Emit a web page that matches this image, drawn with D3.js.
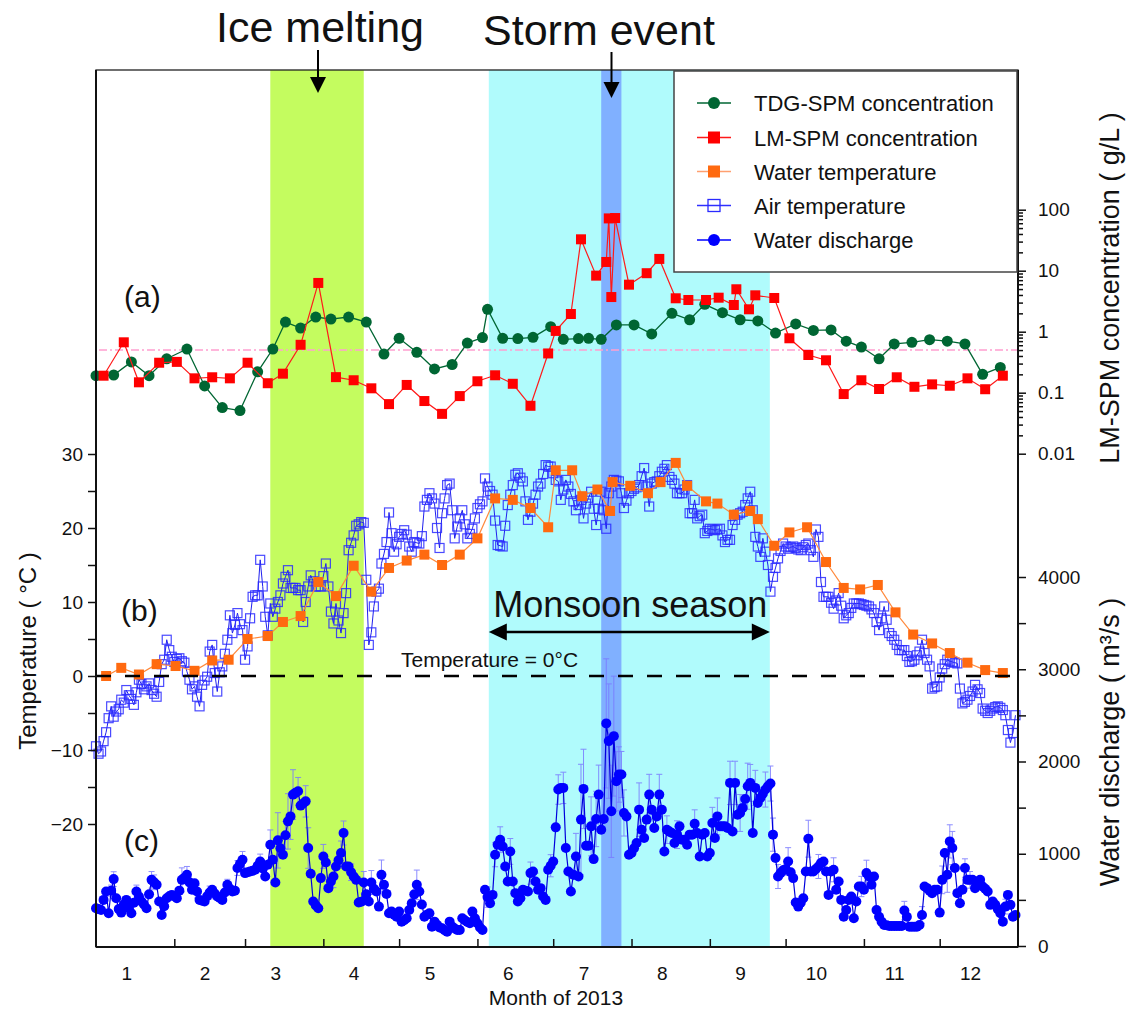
<!DOCTYPE html>
<html>
<head>
<meta charset="utf-8">
<script src="https://d3js.org/d3.v7.min.js"></script>
<style>
body { margin: 0; background: #fff; }
svg text { font-family: Arial, "Liberation Sans", sans-serif; fill: #111; }
</style>
</head>
<body>
<div id="chart"></div>
<script>
// ---- data (day of year from 1 Jan 2013, value) ----
const monthLabels = ["1","2","3","4","5","6","7","8","9","10","11","12"];

const tdgDays = [0,7,14,21,28,36,43,50,57,64,70,75,81,87,93,100,107,114,120,127,134,141,147,153,155,161,167,173,180,185,191,195,200,206,213,220,228,235,241,248,255,262,269,277,284,291,297,303,310,316,323,330,337,344,351,358];
const tdgConc = [0.19,0.195,0.32,0.19,0.36,0.52,0.129,0.057,0.051,0.22,0.52,1.44,1.15,1.74,1.61,1.74,1.44,0.43,0.78,0.46,0.245,0.29,0.65,0.80,2.33,0.78,0.77,0.81,1.21,0.75,0.77,0.78,0.75,1.29,1.29,0.92,2.0,1.57,2.81,2.05,1.57,1.5,0.95,1.34,1.05,1.07,0.70,0.56,0.36,0.63,0.67,0.74,0.70,0.63,0.20,0.26];

const lmDays = [3,11,17,25,32,39,46,53,60,68,74,81,88,95,102,109,116,123,130,137,144,151,158,165,172,179,182,188,192,198,202,203,204,205.5,211,218,223,229.5,234.5,241.5,246.5,252.5,253.5,258.5,261,268.5,274.5,282,289,296,303,310,317,324,331,338,345,352,359];
const lmConc = [0.19,0.67,0.148,0.31,0.32,0.172,0.179,0.172,0.31,0.143,0.205,0.61,6.3,0.18,0.16,0.118,0.065,0.134,0.073,0.045,0.088,0.154,0.193,0.14,0.061,0.44,1.03,1.95,32.7,8.3,13.9,72,3.7,73,5.9,9.1,15.6,3.53,3.31,3.31,3.61,2.74,4.96,2.33,3.95,3.57,0.78,0.415,0.34,0.095,0.16,0.115,0.179,0.125,0.137,0.13,0.172,0.114,0.19];

const waterTempDays = [4,10,17,24,31.5,39,46,52.5,60,68,74,81,88,95,102,109,116,123,130,137,144,151,158,165,172,179,182,188.5,192.5,198.5,203.5,204.5,211.5,218.5,223.5,229.5,234,241.5,246,252.5,259,262,268.5,274.5,281.5,289,296,302.5,309.5,316.5,323.5,331,338,345,352,359];
const waterTemp = [0,1.1,0.2,1.6,1.35,0.7,2.1,2.2,5.0,5.4,7.3,8.1,12.7,10.8,14.9,11.4,14.6,15.6,16.4,15.0,16.4,18.6,24.0,23.8,22.7,20.1,27.8,27.8,24.3,25.2,22.3,26.2,25.7,24.7,26.2,28.8,25.7,23.6,23.3,21.8,22.3,21.2,17.6,19.4,20.1,15.4,11.9,11.7,12.3,8.6,5.6,4.4,3.1,1.8,0.8,0.4];

// daily air temperature, 1 Jan .. 31 Dec
const airTemp = [
-9.5,-10.5,-10.2,-8.8,-7.6,-5.7,-4.1,-5.5,-4.8,-4.5,
-3.2,-3.6,-1.9,-2.6,-3.1,-3.9,-2.2,-0.5,-1.1,-1.8,
-1.4,-1.0,-1.9,-2.4,-2.8,-0.8,1.6,2.2,4.9,3.5,
2.6,1.9,2.3,2.4,2.0,1.8,0.6,-0.5,-1.8,-1.4,
-2.8,-4.1,-1.2,-0.6,-0.1,3.3,4.2,0.4,-2.1,0.5,
1.3,3.0,4.9,8.2,5.8,6.9,8.5,7.0,6.2,2.2,
4.0,7.8,10.7,10.9,10.9,15.7,12.1,8.0,5.5,9.8,
8.0,9.1,10.0,10.9,12.5,13.4,14.3,11.9,11.9,11.9,
11.6,11.6,7.3,10.0,12.1,13.6,12.8,12.1,12.1,12.1,
13.5,15.2,12.1,8.7,7.1,9.8,7.5,5.8,8.5,11.2,
17.0,18.0,19.0,20.3,20.5,20.8,20.7,13.0,4.2,5.9,
9.4,11.4,11.8,15.2,16.5,18.1,22.1,19.3,16.8,17.8,
18.8,19.2,19.7,19.1,17.5,16.8,18.1,18.0,17.9,18.9,
22.9,23.8,24.7,24.0,23.3,20.0,17.3,22.0,24.0,25.8,
26.0,22.4,18.6,20.2,21.3,22.4,20.5,18.6,19.2,19.9,
21.3,22.7,23.2,23.6,26.7,25.6,25.0,24.5,21.0,17.7,
17.6,17.5,20.3,23.1,24.5,25.8,27.2,27.4,26.8,26.3,
23.6,21.1,22.2,23.3,24.5,25.6,26.0,27.3,28.5,28.3,
28.3,27.4,26.5,26.3,23.8,25.2,26.5,25.6,24.6,23.6,
22.4,23.1,23.8,21.3,23.3,24.1,24.9,22.6,20.4,22.6,
24.9,22.4,19.9,24.7,25.6,26.5,26.4,26.3,24.7,22.7,
23.7,24.7,25.0,25.3,25.5,25.8,27.0,28.1,25.6,22.9,
26.0,26.2,26.3,27.0,27.6,28.0,28.5,26.9,26.5,26.0,
24.7,24.7,24.7,25.2,25.8,22.0,22.0,23.8,21.3,21.6,
21.8,19.3,19.6,19.9,19.8,19.7,19.8,19.9,19.0,18.1,
18.4,18.4,20.4,21.1,21.8,22.0,22.2,23.1,24.0,24.9,
22.4,18.8,17.5,16.1,18.6,16.8,15.0,11.4,13.4,14.6,
15.9,16.9,17.9,17.5,17.2,17.4,17.5,17.3,17.1,17.0,
17.4,17.7,17.9,17.0,16.1,19.8,18.8,12.7,10.7,10.7,
10.7,9.9,9.1,10.2,11.2,9.5,7.8,8.2,8.5,9.2,
9.8,9.8,9.8,9.7,9.6,9.5,9.4,9.0,8.5,7.3,
6.2,7.8,9.4,7.6,5.8,5.4,4.9,4.2,3.5,3.5,
3.5,2.7,1.9,2.0,2.2,2.8,3.3,4.9,3.1,2.2,
1.3,-1.7,-1.5,-1.4,-0.2,1.0,1.6,2.2,2.0,1.9,
1.8,1.7,-1.7,-3.7,-3.5,-3.2,-2.7,-2.1,-1.2,-1.8,
-2.3,-4.4,-4.7,-5.0,-4.7,-4.4,-4.2,-4.1,-4.3,-4.6,
-5.3,-7.3,-9.0,-7.7,-5.3];

// daily water discharge (m3/s)
const discharge = [
410,400,391,500,590,355,600,725,518,400,
362,450,500,410,355,470,590,536,482,450,
410,560,717,690,663,482,337,430,518,540,
554,540,518,600,717,740,772,690,609,681,
590,500,490,482,540,580,609,570,536,520,
500,580,663,620,590,600,845,890,935,790,
800,808,815,826,870,916,840,753,880,1098,
935,688,1145,1060,989,1200,1351,1405,1641,1660,
1677,1522,1545,1568,1062,783,482,440,410,736,
971,905,627,700,753,862,930,1008,1225,862,
862,800,753,717,471,480,688,560,482,688,
620,590,427,772,663,565,355,373,340,318,
373,264,280,301,391,464,560,663,590,450,
318,340,355,210,264,230,200,192,170,155,
264,210,190,174,174,301,280,260,247,373,
300,247,200,174,609,530,464,554,989,1098,
1152,1079,862,699,1025,699,573,482,518,609,
600,590,790,808,700,609,627,536,500,826,
870,916,1286,1696,1714,1714,1062,808,590,772,
971,753,1370,1703,1087,1087,1297,942,1377,1641,
1261,1377,2413,2221,1460,2275,1786,1859,1859,1442,
1405,989,1008,1060,1116,1478,1261,1170,1370,1641,
1478,1279,1405,1641,1478,1025,1261,1240,1225,1116,
1207,1297,1152,1152,1098,1207,1207,1326,1225,971,
1207,1225,971,1008,1333,1170,1405,1297,1297,1297,
1279,1768,1242,1768,1424,1442,1497,1594,1732,1768,
1225,1714,1551,1605,1650,1696,1732,1761,1207,953,
753,790,820,833,916,800,736,471,427,470,
518,808,1163,808,808,835,862,900,916,808,
554,808,826,609,699,500,318,391,500,536,
301,482,645,645,609,790,753,663,753,391,
318,264,228,225,217,217,217,217,217,217,
384,318,210,210,210,210,228,337,645,627,
600,573,609,609,362,717,1008,772,1134,1062,
845,573,464,609,845,717,717,717,627,690,
717,645,620,590,446,482,446,400,355,264,
427,554,446,318,337];

// discharge error bars read where visible: [day, +/- m3/s]
const dischargeErr = [[6,60],[7,80],[16,70],[22,90],[23,80],[34,130],[36,90],[40,70],[45,70],[52,60],[56,80],[58,90],[65,80],[69,160],[72,300],[75,150],[76,300],[77,250],[78,270],[80,150],[83,170],[84,220],[90,130],[94,120],[97,130],[98,130],[101,90],[106,120],[109,130],[113,160],[127,160],[155,110],[158,130],[160,140],[164,140],[172,120],[174,90],[180,120],[183,160],[185,170],[190,250],[192,600],[193,430],[196,320],[198,300],[199,320],[202,700],[203,620],[204,500],[205,650],[206,320],[207,300],[208,250],[209,250],[215,290],[219,220],[223,220],[226,150],[230,150],[237,150],[244,170],[246,200],[251,235],[253,235],[255,200],[258,250],[259,200],[261,190],[265,190],[267,190],[268,180],[270,130],[274,150],[282,200],[286,130],[292,130],[303,110],[305,140],[320,100],[327,90],[335,150],[337,190],[338,180],[339,180],[344,100],[346,90],[360,80]];

// shaded periods
const periods = [
  {start: "2013-03-11T00:00Z", end: "2013-04-17T00:00Z", color: "#c4fc5f"},
  {start: "2013-06-05T12:00Z", end: "2013-09-24T18:00Z", color: "#b0fbfc"},
  {start: "2013-07-20T00:00Z", end: "2013-07-28T00:00Z", color: "#80b0ff"}
];

const legendLabels = ["TDG-SPM concentration","LM-SPM concentration","Water temperature","Air temperature","Water discharge"];

// ---- layout ----
const W = 1126, H = 1016;
const L = 96, R = 1018, T = 70, B = 947;

const svg = d3.select("#chart").append("svg")
  .attr("width", W)
  .attr("height", H);

const t0 = Date.UTC(2013, 0, 1);
const dayDate = d => new Date(t0 + d * 86400000);

const x = d3.scaleUtc()
  .domain([new Date(t0), new Date(Date.UTC(2014, 0, 1))])
  .range([L, R]);
const yT = d3.scaleLinear().domain([-20, 30]).range([824, 454]);
const yC = d3.scaleLog().domain([0.01, 100]).range([453.7, 209.7]);
const yQ = d3.scaleLinear().domain([0, 4000]).range([946, 577]);

// shaded bands
svg.selectAll("rect.band")
  .data(periods)
  .enter()
  .append("rect")
  .attr("class", "band")
  .attr("x", d => x(new Date(d.start)))
  .attr("width", d => x(new Date(d.end)) - x(new Date(d.start)))
  .attr("y", T)
  .attr("height", B - T)
  .attr("fill", d => d.color);

// ---- (c) water discharge ----
const qData = discharge.map((v, i) => ({d: i, v: v}));

const errG = svg.append("g")
  .attr("stroke", "#7a7aff")
  .attr("stroke-width", 1)
  .attr("opacity", 0.85);
dischargeErr.forEach(([d, e]) => {
  const cx = x(dayDate(d));
  const v = discharge[d];
  const y1 = yQ(v + e), y2 = yQ(Math.max(v - e, 0));
  errG.append("line").attr("x1", cx).attr("x2", cx).attr("y1", y1).attr("y2", y2);
  errG.append("line").attr("x1", cx - 3).attr("x2", cx + 3).attr("y1", y1).attr("y2", y1);
  errG.append("line").attr("x1", cx - 3).attr("x2", cx + 3).attr("y1", y2).attr("y2", y2);
});

svg.append("path")
  .datum(qData)
  .attr("fill", "none")
  .attr("stroke", "#0000dd")
  .attr("stroke-width", 1.2)
  .attr("d", d3.line().x(d => x(dayDate(d.d))).y(d => yQ(d.v)));

svg.append("g")
  .selectAll("circle")
  .data(qData)
  .enter()
  .append("circle")
  .attr("cx", d => x(dayDate(d.d)))
  .attr("cy", d => yQ(d.v))
  .attr("r", 5)
  .attr("fill", "#0000ff");

// ---- (b) temperatures ----
const airData = airTemp.map((v, i) => ({d: i, v: v}));
svg.append("path")
  .datum(airData)
  .attr("fill", "none")
  .attr("stroke", "#2020ee")
  .attr("stroke-width", 1)
  .attr("d", d3.line().x(d => x(dayDate(d.d))).y(d => yT(d.v)));

svg.append("g")
  .selectAll("rect")
  .data(airData)
  .enter()
  .append("rect")
  .attr("x", d => x(dayDate(d.d)) - 4.5)
  .attr("y", d => yT(d.v) - 4.5)
  .attr("width", 9)
  .attr("height", 9)
  .attr("fill", "none")
  .attr("stroke", "#2a2aff")
  .attr("stroke-opacity", 0.85)
  .attr("stroke-width", 1.2);

const wtData = waterTempDays.map((d, i) => ({d: d, v: waterTemp[i]}));
svg.append("path")
  .datum(wtData)
  .attr("fill", "none")
  .attr("stroke", "#ff8a3d")
  .attr("stroke-width", 1.2)
  .attr("d", d3.line().x(d => x(dayDate(d.d))).y(d => yT(d.v)));

svg.append("g")
  .selectAll("rect")
  .data(wtData)
  .enter()
  .append("rect")
  .attr("x", d => x(dayDate(d.d)) - 5)
  .attr("y", d => yT(d.v) - 5)
  .attr("width", 10)
  .attr("height", 10)
  .attr("fill", "#ff6a10");

// ---- (a) concentrations ----
// 0.5 g/L reference line
svg.append("line")
  .attr("x1", L + 3).attr("x2", R)
  .attr("y1", yC(0.5)).attr("y2", yC(0.5))
  .attr("stroke", "#ff9fd0")
  .attr("stroke-width", 1.6)
  .attr("stroke-dasharray", "8,3,2,3");

const tdgData = tdgDays.map((d, i) => ({d: d, v: tdgConc[i]}));
svg.append("path")
  .datum(tdgData)
  .attr("fill", "none")
  .attr("stroke", "#006633")
  .attr("stroke-width", 1.3)
  .attr("d", d3.line().x(d => x(dayDate(d.d))).y(d => yC(d.v)));
svg.append("g")
  .selectAll("circle")
  .data(tdgData)
  .enter()
  .append("circle")
  .attr("cx", d => x(dayDate(d.d)))
  .attr("cy", d => yC(d.v))
  .attr("r", 5.5)
  .attr("fill", "#006633");

const lmData = lmDays.map((d, i) => ({d: d, v: lmConc[i]}));
svg.append("path")
  .datum(lmData)
  .attr("fill", "none")
  .attr("stroke", "#ff1a1a")
  .attr("stroke-width", 1.2)
  .attr("d", d3.line().x(d => x(dayDate(d.d))).y(d => yC(d.v)));
svg.append("g")
  .selectAll("rect")
  .data(lmData)
  .enter()
  .append("rect")
  .attr("x", d => x(dayDate(d.d)) - 5)
  .attr("y", d => yC(d.v) - 5)
  .attr("width", 10)
  .attr("height", 10)
  .attr("fill", "#ff0000");

// zero temperature line
svg.append("line")
  .attr("x1", L).attr("x2", R)
  .attr("y1", yT(0)).attr("y2", yT(0))
  .attr("stroke", "#000")
  .attr("stroke-width", 2.4)
  .attr("stroke-dasharray", "15,14");

svg.append("text")
  .attr("x", 401).attr("y", 667)
  .attr("font-size", 21)
  .text("Temperature = 0°C");

// ---- frame and axes ----
svg.append("rect")
  .attr("x", L).attr("y", T)
  .attr("width", R - L).attr("height", B - T)
  .attr("fill", "none")
  .attr("stroke", "#222")
  .attr("stroke-width", 1.3);
svg.append("line")
  .attr("x1", L).attr("x2", L).attr("y1", T).attr("y2", B)
  .attr("stroke", "#111").attr("stroke-width", 2);
svg.append("line")
  .attr("x1", R).attr("x2", R).attr("y1", T).attr("y2", B)
  .attr("stroke", "#111").attr("stroke-width", 2);
svg.append("line")
  .attr("x1", L).attr("x2", R).attr("y1", B).attr("y2", B)
  .attr("stroke", "#111").attr("stroke-width", 2);

function styleAxis(g, fs) {
  g.select(".domain").remove();
  g.selectAll(".tick line").attr("stroke", "#111").attr("stroke-width", 1.5);
  g.selectAll(".tick text")
    .attr("font-size", fs)
    .attr("font-family", "Arial, 'Liberation Sans', sans-serif")
    .attr("fill", "#111");
}

// left temperature axis
svg.append("g")
  .attr("transform", `translate(${L},0)`)
  .call(d3.axisLeft(yT).tickValues([-20, -10, 0, 10, 20, 30]).tickSize(8).tickPadding(5))
  .call(g => styleAxis(g, 19));
svg.append("g")
  .attr("transform", `translate(${L},0)`)
  .call(d3.axisLeft(yT).tickValues([-15, -5, 5, 15, 25]).tickSize(8).tickFormat(""))
  .call(g => styleAxis(g, 19));

// right log concentration axis
svg.append("g")
  .attr("transform", `translate(${R},0)`)
  .call(d3.axisRight(yC).tickValues([0.01, 0.1, 1, 10, 100]).tickSize(8).tickPadding(12)
    .tickFormat(d => d >= 1 ? d3.format("d")(d) : String(d)))
  .call(g => styleAxis(g, 19));
svg.append("g")
  .attr("transform", `translate(${R},0)`)
  .call(d3.axisRight(yC).tickValues(yC.ticks().filter(v => ![0.01, 0.1, 1, 10, 100].includes(v))).tickSize(5).tickFormat(""))
  .call(g => styleAxis(g, 19));

// right discharge axis
svg.append("g")
  .attr("transform", `translate(${R},0)`)
  .call(d3.axisRight(yQ).tickValues([0, 1000, 2000, 3000, 4000]).tickSize(8).tickPadding(12).tickFormat(d3.format("d")))
  .call(g => styleAxis(g, 19));
svg.append("g")
  .attr("transform", `translate(${R},0)`)
  .call(d3.axisRight(yQ).tickValues([500, 1500, 2500, 3500]).tickSize(8).tickFormat(""))
  .call(g => styleAxis(g, 19));

// bottom month axis: ticks at month starts (inside), labels near mid-month
const monthStarts = d3.range(1, 12).map(m => new Date(Date.UTC(2013, m, 1)));
svg.append("g")
  .attr("transform", `translate(0,${B})`)
  .call(d3.axisBottom(x).tickValues(monthStarts).tickSize(-8).tickFormat(""))
  .call(g => styleAxis(g, 19));
svg.append("g")
  .attr("transform", `translate(0,${B})`)
  .call(d3.axisBottom(x)
    .tickValues(d3.range(0, 12).map(m => new Date(Date.UTC(2013, m, 13))))
    .tickSize(0).tickPadding(20)
    .tickFormat((d, i) => monthLabels[i]))
  .call(g => styleAxis(g, 19));

// axis titles
svg.append("text")
  .attr("x", 556).attr("y", 1005)
  .attr("text-anchor", "middle")
  .attr("font-size", 21)
  .text("Month of 2013");

svg.append("text")
  .attr("transform", "translate(36,651) rotate(-90)")
  .attr("text-anchor", "middle")
  .attr("font-size", 24)
  .text("Temperature ( °C )");

svg.append("text")
  .attr("transform", "translate(1119,288) rotate(-90)")
  .attr("text-anchor", "middle")
  .attr("font-size", 27)
  .text("LM-SPM concentration ( g/L )");

svg.append("text")
  .attr("transform", "translate(1119,742) rotate(-90)")
  .attr("text-anchor", "middle")
  .attr("font-size", 27)
  .text("Water discharge ( m³/s )");

// panel letters
[["(a)", 124, 307], ["(b)", 121, 621], ["(c)", 124, 851]].forEach(([t, px, py]) => {
  svg.append("text").attr("x", px).attr("y", py).attr("font-size", 30).text(t);
});

// event annotations
svg.append("text")
  .attr("x", 320).attr("y", 42)
  .attr("text-anchor", "middle")
  .attr("font-size", 43)
  .text("Ice melting");
svg.append("text")
  .attr("x", 599).attr("y", 45)
  .attr("text-anchor", "middle")
  .attr("font-size", 43)
  .text("Storm event");

function downArrow(ax, y0, tip) {
  svg.append("line")
    .attr("x1", ax).attr("x2", ax).attr("y1", y0).attr("y2", tip - 12)
    .attr("stroke", "#000").attr("stroke-width", 2);
  svg.append("path")
    .attr("d", `M${ax - 8},${tip - 16}L${ax + 8},${tip - 16}L${ax},${tip}Z`)
    .attr("fill", "#000");
}
downArrow(318, 50, 93);
downArrow(611.5, 52, 98);

// monsoon season
const mStart = x(new Date(periods[1].start)), mEnd = x(new Date(periods[1].end));
svg.append("text")
  .attr("x", (mStart + mEnd) / 2 + 1).attr("y", 617)
  .attr("text-anchor", "middle")
  .attr("font-size", 36)
  .text("Monsoon season");
svg.append("line")
  .attr("x1", mStart + 14).attr("x2", mEnd - 14)
  .attr("y1", 632).attr("y2", 632)
  .attr("stroke", "#000").attr("stroke-width", 2.5);
svg.append("path")
  .attr("d", `M${mStart},632L${mStart + 18},623.5L${mStart + 18},640.5Z`)
  .attr("fill", "#000");
svg.append("path")
  .attr("d", `M${mEnd},632L${mEnd - 18},623.5L${mEnd - 18},640.5Z`)
  .attr("fill", "#000");

// ---- legend ----
const lg = svg.append("g");
lg.append("rect")
  .attr("x", 674).attr("y", 71)
  .attr("width", 343).attr("height", 201)
  .attr("fill", "#fff")
  .attr("stroke", "#444")
  .attr("stroke-width", 1.5);

const legendColors = ["#006633", "#ff1a1a", "#ffa070", "#3030ff", "#0000ff"];
const legendY = [103, 137.5, 171.5, 205.5, 240];
legendLabels.forEach((lab, i) => {
  const ly = legendY[i];
  lg.append("line")
    .attr("x1", 697).attr("x2", 731).attr("y1", ly).attr("y2", ly)
    .attr("stroke", legendColors[i]).attr("stroke-width", 1.3);
  if (i === 0) {
    lg.append("circle").attr("cx", 714).attr("cy", ly).attr("r", 6).attr("fill", "#006633");
  } else if (i === 1) {
    lg.append("rect").attr("x", 708).attr("y", ly - 6).attr("width", 12).attr("height", 12).attr("fill", "#ff0000");
  } else if (i === 2) {
    lg.append("rect").attr("x", 708).attr("y", ly - 6).attr("width", 12).attr("height", 12).attr("fill", "#ff6a10");
  } else if (i === 3) {
    lg.append("rect").attr("x", 708).attr("y", ly - 6).attr("width", 12).attr("height", 12)
      .attr("fill", "none").attr("stroke", "#2a2aff").attr("stroke-width", 1.3);
  } else {
    lg.append("circle").attr("cx", 714).attr("cy", ly).attr("r", 6).attr("fill", "#0000ff");
  }
  lg.append("text")
    .attr("x", 754).attr("y", ly + 8)
    .attr("font-size", 22)
    .text(lab);
});
</script>
</body>
</html>
